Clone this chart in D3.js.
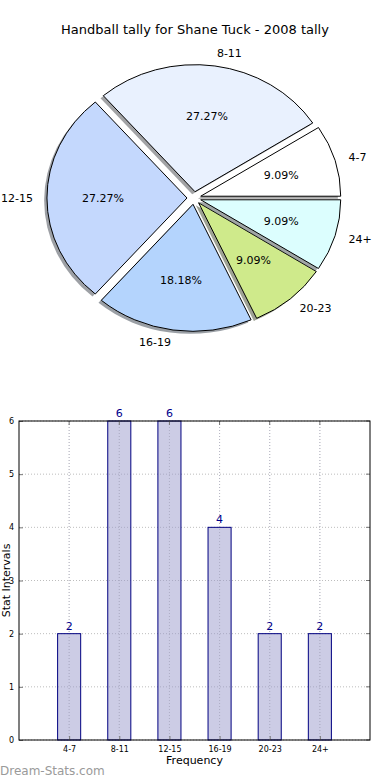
<!DOCTYPE html>
<html>
<head>
<meta charset="utf-8">
<script src="https://cdn.jsdelivr.net/npm/d3@7"></script>
<style>
  body { margin: 0; background: #fff; }
  svg { display: block; font-family: "DejaVu Sans", sans-serif; }
</style>
</head>
<body>
<div id="chart"></div>
<script>
// data
const categories = ['4-7', '8-11', '12-15', '16-19', '20-23', '24+'];
const counts = [2, 6, 6, 4, 2, 2];
const sliceColors = ['#ffffff', '#e9f1fe', '#c4d8fd', '#b4d4fd', '#cfea8b', '#dcfefe'];
const yTicks = [0, 1, 2, 3, 4, 5, 6];
const title = 'Handball tally for Shane Tuck - 2008 tally';

const width = 390, height = 780;

const svg = d3.select('#chart').append('svg')
  .attr('width', width)
  .attr('height', height);

// title
svg.append('text')
  .attr('x', 195).attr('y', 34)
  .attr('text-anchor', 'middle')
  .style('font-size', '13px')
  .attr('fill', '#000')
  .text(title);

// ---- pie (elliptical, like the old matplotlib output) ----
const cx = 194, cy = 198, rx = 140, ry = 127;
const explode = 0.05;
const total = d3.sum(counts);

// matplotlib starts at 3 o'clock and runs counter-clockwise
const pie = d3.pie().sort(null).startAngle(Math.PI / 2).endAngle(Math.PI / 2 - 2 * Math.PI);
const arcs = pie(counts);
const arc = d3.arc().innerRadius(0).outerRadius(1);

const pieG = svg.append('g');

arcs.forEach((d, i) => {
  const mid = (d.startAngle + d.endAngle) / 2;
  const ox = cx + explode * rx * Math.sin(mid);
  const oy = cy - explode * ry * Math.cos(mid);
  const c = d3.rgb(sliceColors[i]);
  // shadow
  pieG.append('path')
    .attr('d', arc(d))
    .attr('transform', `translate(${ox - 0.02 * rx},${oy + 0.02 * ry}) scale(${rx},${ry})`)
    .attr('fill', d3.rgb(c.r * 0.3, c.g * 0.3, c.b * 0.3))
    .attr('fill-opacity', 0.5);
  // wedge
  pieG.append('path')
    .attr('d', arc(d))
    .attr('transform', `translate(${ox},${oy}) scale(${rx},${ry})`)
    .attr('fill', sliceColors[i])
    .attr('stroke', '#000')
    .attr('stroke-width', 1)
    .attr('vector-effect', 'non-scaling-stroke');
});

arcs.forEach((d, i) => {
  const mid = (d.startAngle + d.endAngle) / 2;
  const ox = cx + explode * rx * Math.sin(mid);
  const oy = cy - explode * ry * Math.cos(mid);
  const sx = Math.sin(mid), sy = -Math.cos(mid);
  // category label
  pieG.append('text')
    .attr('x', ox + 1.1 * rx * sx).attr('y', oy + 1.1 * ry * sy)
    .attr('dy', '0.35em')
    .attr('text-anchor', sx > 0 ? 'start' : 'end')
    .style('font-size', '11px')
    .text(categories[i]);
  // percent label
  pieG.append('text')
    .attr('x', ox + 0.6 * rx * sx).attr('y', oy + 0.6 * ry * sy)
    .attr('dy', '0.35em')
    .attr('text-anchor', 'middle')
    .style('font-size', '11px')
    .text((d.value / total * 100).toFixed(2) + '%');
});

// ---- bar chart ----
const pLeft = 19, pRight = 370, pTop = 421, pBottom = 740;
const x = d3.scaleLinear().domain([-1, 6]).range([pLeft, pRight]);
const y = d3.scaleLinear().domain([0, 6]).range([pBottom, pTop]);
const barW = 0.46;

const barG = svg.append('g');

// grid
barG.append('g').selectAll('line').data(yTicks).enter().append('line')
  .attr('x1', pLeft).attr('x2', pRight)
  .attr('y1', d => y(d)).attr('y2', d => y(d))
  .attr('stroke', '#bdbdbd').attr('stroke-dasharray', '1,2');
barG.append('g').selectAll('line').data(categories).enter().append('line')
  .attr('x1', (d, i) => x(i)).attr('x2', (d, i) => x(i))
  .attr('y1', pTop).attr('y2', pBottom)
  .attr('stroke', '#bdbdbd').attr('stroke-dasharray', '1,2');

// bars
barG.selectAll('rect.bar').data(counts).enter().append('rect')
  .attr('class', 'bar')
  .attr('x', (d, i) => x(i - barW / 2))
  .attr('width', x(barW) - x(0))
  .attr('y', d => y(d))
  .attr('height', d => y(0) - y(d))
  .attr('fill', 'rgba(153,153,204,0.5)')
  .attr('stroke', '#000080')
  .attr('stroke-width', 1);

// grid drawn again over the bars, faint
barG.append('g').selectAll('line').data(categories).enter().append('line')
  .attr('x1', (d, i) => x(i)).attr('x2', (d, i) => x(i))
  .attr('y1', pTop).attr('y2', pBottom)
  .attr('stroke', '#b0b0c8').attr('stroke-dasharray', '1,2').attr('stroke-opacity', 0.6);

// value labels
barG.selectAll('text.val').data(counts).enter().append('text')
  .attr('class', 'val')
  .attr('x', (d, i) => x(i))
  .attr('y', d => y(d) - 4)
  .attr('text-anchor', 'middle')
  .style('font-size', '11px')
  .attr('fill', '#00008b')
  .text(d => d);

// axes (ticks drawn inside, matplotlib style)
const xAxis = d3.axisBottom(x)
  .tickValues(d3.range(categories.length))
  .tickFormat(i => categories[i])
  .tickSizeInner(-4).tickSizeOuter(0).tickPadding(6);
const yAxis = d3.axisLeft(y)
  .tickValues(yTicks)
  .tickFormat(d3.format('d'))
  .tickSizeInner(-4).tickSizeOuter(0).tickPadding(5);

const gx = barG.append('g').attr('transform', `translate(0,${pBottom})`).call(xAxis);
const gy = barG.append('g').attr('transform', `translate(${pLeft},0)`).call(yAxis);
[gx, gy].forEach(g => {
  g.select('.domain').remove();
  g.selectAll('.tick line').attr('stroke', '#777');
  g.selectAll('.tick text').style('font-size', '8px').style('font-family', '"DejaVu Sans", sans-serif').attr('fill', '#000');
});

// top and right inner ticks
barG.append('g').selectAll('line').data(categories).enter().append('line')
  .attr('x1', (d, i) => x(i)).attr('x2', (d, i) => x(i))
  .attr('y1', pTop).attr('y2', pTop + 4).attr('stroke', '#777');
barG.append('g').selectAll('line').data(yTicks).enter().append('line')
  .attr('x1', pRight).attr('x2', pRight - 4)
  .attr('y1', d => y(d)).attr('y2', d => y(d)).attr('stroke', '#777');

// frame
barG.append('rect')
  .attr('x', pLeft).attr('y', pTop)
  .attr('width', pRight - pLeft).attr('height', pBottom - pTop)
  .attr('fill', 'none').attr('stroke', '#000').attr('stroke-width', 1);

// axis titles
svg.append('text')
  .attr('x', (pLeft + pRight) / 2).attr('y', 764)
  .attr('text-anchor', 'middle')
  .style('font-size', '11px')
  .text('Frequency');
svg.append('text')
  .attr('transform', `translate(10,${(pTop + pBottom) / 2}) rotate(-90)`)
  .attr('text-anchor', 'middle')
  .style('font-size', '11px')
  .text('Stat Intervals');

// watermark
svg.append('text')
  .attr('x', 0).attr('y', 775)
  .style('font-size', '12px')
  .attr('fill', '#9a9a9a')
  .text('Dream-Stats.com');
</script>
</body>
</html>
